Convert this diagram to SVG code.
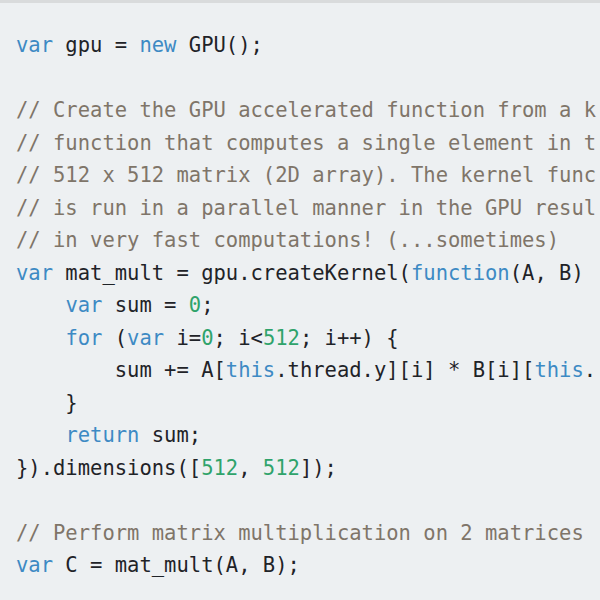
<svg xmlns="http://www.w3.org/2000/svg" width="600" height="600" viewBox="0 0 600 600">
<style>
text{font-family:"DejaVu Sans Mono","Liberation Mono",monospace;font-size:20.5px;fill:#1f2328;white-space:pre}
.k{fill:#3d8ac4}
.c{fill:#7f7569}
.n{fill:#2fa36b}
</style>
<rect x="0" y="0" width="600" height="600" fill="#edf0f2"/>
<rect x="0" y="0" width="600" height="3" fill="#d9dbdc"/>
<g id="code">
<text x="16" y="52" xml:space="preserve"><tspan class="k">var</tspan> gpu = <tspan class="k">new</tspan> GPU();</text>
<text x="16" y="117" class="c" xml:space="preserve">// Create the GPU accelerated function from a k</text>
<text x="16" y="149.5" class="c" xml:space="preserve">// function that computes a single element in t</text>
<text x="16" y="182" class="c" xml:space="preserve">// 512 x 512 matrix (2D array). The kernel func</text>
<text x="16" y="214.5" class="c" xml:space="preserve">// is run in a parallel manner in the GPU resul</text>
<text x="16" y="247" class="c" xml:space="preserve">// in very fast computations! (...sometimes)</text>
<text x="16" y="279.5" xml:space="preserve"><tspan class="k">var</tspan> mat_mult = gpu.createKernel(<tspan class="k">function</tspan>(A, B)</text>
<text x="16" y="312" xml:space="preserve">    <tspan class="k">var</tspan> sum = <tspan class="n">0</tspan>;</text>
<text x="16" y="344.5" xml:space="preserve">    <tspan class="k">for</tspan> (<tspan class="k">var</tspan> i=<tspan class="n">0</tspan>; i&lt;<tspan class="n">512</tspan>; i++) {</text>
<text x="16" y="377" xml:space="preserve">        sum += A[<tspan class="k">this</tspan>.thread.y][i] * B[i][<tspan class="k">this</tspan>.</text>
<text x="16" y="409.5" xml:space="preserve">    }</text>
<text x="16" y="442" xml:space="preserve">    <tspan class="k">return</tspan> sum;</text>
<text x="16" y="474.5" xml:space="preserve">}).dimensions([<tspan class="n">512</tspan>, <tspan class="n">512</tspan>]);</text>
<text x="16" y="539.5" class="c" xml:space="preserve">// Perform matrix multiplication on 2 matrices</text>
<text x="16" y="572" xml:space="preserve"><tspan class="k">var</tspan> C = mat_mult(A, B);</text>
</g>
</svg>
